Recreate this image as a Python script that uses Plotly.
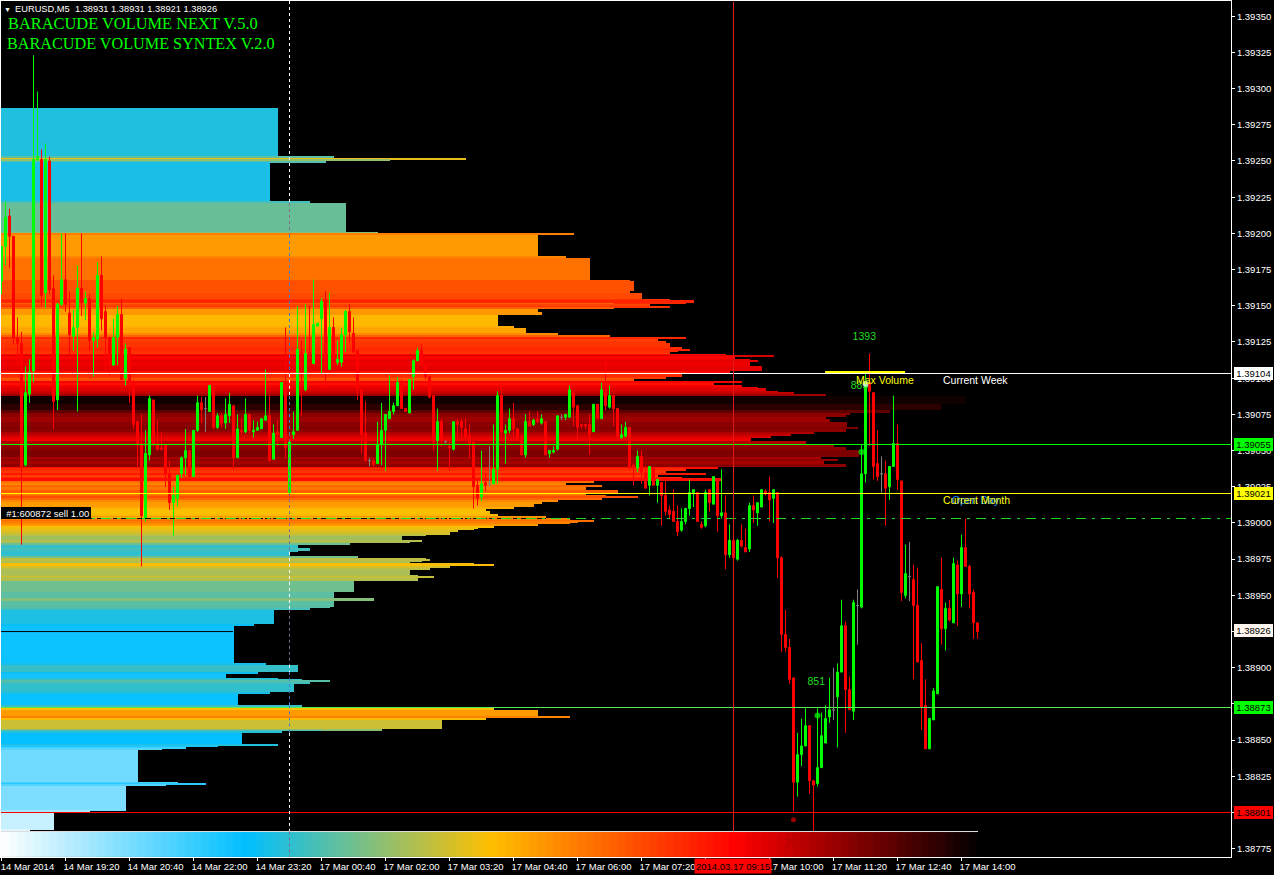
import plotly.graph_objects as go

# ---------- Candles, in points (1e-5) relative to 1.39000 ----------
BASE = 1.39
body_top = [191,211,212,198,128,124,90,104,251,253,
251,251,250,162,151,168,168,145,135,162,
162,155,155,128,171,171,146,128,128,144,
144,120,121,97,70,55,48,86,85,54,
52,54,34,19,33,45,50,50,64,83,
83,79,95,95,74,74,75,82,81,65,
64,75,75,64,66,72,74,74,62,63,
97,98,56,63,120,118,117,118,137,138,
153,154,135,135,113,130,146,146,131,119,
92,62,43,43,54,64,75,77,81,97,
96,79,99,112,119,119,108,101,88,70,
70,56,53,70,70,70,65,60,56,26,
27,28,27,37,88,88,64,72,72,65,
59,70,70,71,72,72,70,50,50,74,
73,75,92,90,81,68,68,68,82,82,
92,90,88,88,79,61,66,66,40,46,
46,35,39,38,30,28,19,9,8,1,
1,10,21,23,21,-1,21,23,32,30,
7,7,-12,-12,-12,-12,-17,12,12,14,
23,22,21,23,21,-24,-77,-86,-107,-160,
-154,-140,-140,-178,-169,-147,-135,-129,-129,-103,
-71,-71,-115,-55,-57,34,97,97,90,41,
34,34,39,55,55,29,-35,-37,-39,-57,
-95,-126,-135,-116,-44,-46,-59,-59,-28,-29,
-17,-17,-30,-48,-69]
body_bot = [167,191,198,128,124,39,40,89,105,251,
157,159,161,84,85,151,151,130,129,135,
152,152,126,126,127,141,128,110,109,128,
99,100,98,68,55,5,3,47,54,51,
51,34,14,14,17,34,45,32,32,64,
78,79,77,66,66,69,69,74,45,45,
63,63,64,63,64,65,71,43,44,61,
59,52,21,61,64,117,92,117,110,136,
141,106,106,114,111,111,130,132,118,93,
61,43,43,40,41,54,64,72,77,81,
79,77,76,101,112,109,101,87,56,57,
57,56,52,51,68,66,59,55,25,17,
18,26,27,27,37,63,62,64,65,57,
47,47,67,68,70,69,47,48,49,51,
73,73,73,80,66,67,67,61,63,72,
72,81,80,79,59,59,60,38,38,38,
35,24,26,26,26,19,8,6,1,-6,
-5,1,10,21,1,-3,-2,14,13,5,
5,-22,-22,-24,-25,-16,-20,-18,9,7,
11,20,16,17,-24,-77,-86,-108,-179,-179,
-160,-154,-178,-181,-180,-169,-152,-134,-129,-120,
-103,-115,-129,-130,-57,-58,34,91,39,32,
34,24,25,39,30,-48,-50,-37,-57,-96,
-127,-156,-156,-136,-118,-73,-73,-67,-69,-49,
-49,-30,-49,-69,-75]
wick_high = [191,222,217,198,142,132,108,113,323,298,
258,262,253,171,152,200,200,160,147,178,
200,160,158,132,180,184,150,128,141,150,
155,124,121,99,70,75,64,88,85,71,
63,54,43,25,33,46,65,50,64,88,
87,87,95,95,76,76,86,90,81,75,
72,86,75,71,70,72,106,88,68,71,
97,135,56,77,150,126,151,150,168,138,
155,160,159,142,126,135,147,151,142,119,
92,84,45,44,70,83,75,102,83,101,
99,79,99,113,121,124,110,101,88,79,
72,57,58,70,72,72,72,68,56,31,
50,34,53,68,91,94,68,79,83,65,
61,75,77,72,77,75,70,50,53,74,
75,75,95,91,81,68,68,75,82,82,
97,115,95,88,79,68,70,66,41,50,
50,39,39,39,30,28,32,12,23,12,
10,10,30,23,21,1,23,23,32,30,
37,19,-1,-12,-11,-1,-4,14,19,14,
23,23,32,23,21,-23,-60,-80,-107,-145,
-135,-128,-140,-178,-128,-131,-126,-107,-100,-97,
-53,-68,-106,-53,-46,54,103,117,90,64,
46,43,39,88,68,29,-15,-13,-29,-31,
-83,-108,-135,-114,-44,-24,-55,-53,-24,-26,
-8,3,-29,-46,-69]
wick_low = [158,178,176,123,109,-15,39,83,97,250,
150,148,158,65,78,150,146,114,119,77,
143,140,119,101,121,133,105,102,109,109,
99,95,83,65,39,-30,1,43,53,50,
50,25,9,-9,11,31,33,32,32,63,
69,63,77,65,65,66,65,69,37,45,
61,62,62,59,64,65,71,43,44,53,
59,45,21,58,64,74,91,117,110,136,
103,92,106,114,109,108,118,125,118,85,
48,43,39,39,41,40,36,72,75,81,
79,77,76,92,112,109,99,86,50,36,
53,55,36,50,60,57,57,45,10,12,
15,22,25,27,27,61,41,62,59,57,
47,45,67,67,69,68,47,45,48,50,
71,71,73,67,58,65,65,47,63,72,
72,78,79,67,59,58,59,37,26,35,
27,24,19,26,14,-2,5,3,1,-9,
-6,-1,5,11,1,-4,-3,8,13,-6,
3,-32,-24,-24,-26,-17,-20,-20,0,-2,
11,19,1,0,-38,-89,-89,-111,-199,-189,
-168,-154,-187,-213,-182,-169,-152,-138,-136,-155,
-103,-145,-129,-136,-84,-59,28,53,30,29,
21,-2,16,39,23,-54,-52,-54,-108,-96,
-143,-156,-156,-136,-118,-84,-88,-68,-69,-71,
-58,-30,-59,-80,-80]
directions = ("GGRRRRGGGG" "RGRRGGRRGG" "RGRGGRRRGG" "RGRRRRGGRR" "RRRGGGGRGG"
              "RNGRGRGGRG" "RGRGGGGRGR" "GRGGGRGRGG" "GRGRGGGRRR" "RRNRGGGGGG"
              "RRGGGRRRRG" "RNRGRRRRRR" "GRNGGRGGRR" "RGRGRGRGGG" "NGGRRRRRGR"
              "GRGRRGGRRG" "RRGRGRRRRR" "GGGGRRGRGR" "GRGRGRRGRG" "GRRGRRRRRG"
              "GGRRGGGGNG" "GRRGNGGRRR" "NRGGRRGNRR" "RRGGGRGRGR" "GRRRR")
assert len(body_top) == len(body_bot) == len(wick_high) == len(wick_low) == len(directions) == 245

# ---------- Volume profile: contiguous price rows (edges in points), volume per row ----------
profile_edges = [286.6,252.8,252.1,251.0,250.0,249.0,221.7,221.0,201.0,199.9,198.9,183.7,183.0,167.8,167.1,
160.2,158.8,154.7,153.7,152.6,151.9,151.2,149.5,148.8,147.8,145.7,143.6,136.0,134.7,131.2,129.8,127.8,127.1,
125.0,124.3,120.9,120.2,118.8,118.1,116.7,116.0,115.3,113.3,111.9,111.2,108.4,105.0,103.6,102.9,100.6,99.9,
98.1,96.7,95.3,93.9,92.9,91.4,90.0,89.1,87.7,82.2,78.0,76.2,75.1,73.4,71.6,70.0,66.5,64.7,63.1,61.5,60.1,
58.5,56.8,53.9,52.3,50.4,45.8,44.2,42.8,40.7,38.9,37.8,36.1,34.7,33.1,32.0,30.9,29.2,27.4,26.2,24.7,22.8,
20.5,18.9,18.0,17.3,15.9,14.7,13.6,11.3,9.9,8.3,6.2,4.8,4.1,2.8,2.1,0.7,0,-0.7,-2.1,-2.8,-4.1,-4.8,-6.2,
-8.3,-9.0,-11.7,-13.1,-13.8,-15.2,-17.3,-19.3,-20.0,-22.8,-24.2,-24.9,-26.2,-26.9,-28.3,-29.0,-29.7,-31.1,
-31.8,-36.6,-37.3,-38.0,-40.1,-47.7,-51.8,-53.9,-58.0,-58.7,-60.1,-69.8,-71.1,-96.7,-98.1,-102.9,-104.3,
-107.0,-108.1,-109.1,-109.8,-111.4,-116.7,-118.1,-125.7,-127.1,-129.1,-133.3,-134.7,-136.0,-142.3,-143.0,
-143.6,-145.0,-152.6,-154.0,-154.7,-156.1,-156.8,-178.9,-180.2,-180.9,-181.6,-198.9,-199.6,-212.0,-212.7]
profile_volume = [277,333,465,389,325,269,309,345,377,573,537,565,589,629,633,
629,641,669,693,685,613,649,669,613,537,541,497,513,525,557,609,685,657,
665,669,681,689,677,669,725,773,734,749,757,749,761,729,685,681,665,633,
741,713,741,757,765,777,793,825,965,940,889,849,845,825,829,846,857,845,813,790,770,
750,805,833,845,858,820,837,823,845,717,685,665,705,657,681,721,593,565,601,585,617,
585,605,637,601,557,541,533,513,485,489,497,545,480,569,593,577,569,537,493,477,473,457,449,
425,401,421,409,349,297,309,297,289,357,425,429,421,409,473,493,449,429,
409,417,433,417,353,333,373,333,329,309,273,253,233,265,297,257,225,
277,301,329,309,293,269,237,301,493,537,569,485,441,381,321,
281,241,277,217,185,161,137,177,205,165,125,89,53,29]
assert len(profile_edges) == len(profile_volume) + 1

volume_scale = [[0, "#ffffff"], [0.25, "#00bfff"], [0.5, "#ffbf00"], [0.75, "#ff0000"], [1, "#000000"]]
VOL_MAX = 980
legend_levels = list(range(4, 980, 8))

tick_labels = ["14 Mar 2014", "14 Mar 19:20", "14 Mar 20:40", "14 Mar 22:00", "14 Mar 23:20", "17 Mar 00:40",
               "17 Mar 02:00", "17 Mar 03:20", "17 Mar 04:40", "17 Mar 06:00", "17 Mar 07:20", "17 Mar 08:40",
               "17 Mar 10:00", "17 Mar 11:20", "17 Mar 12:40", "17 Mar 14:00"]
tick_index = [0, 16, 32, 48, 64, 80, 96, 112, 128, 144, 160, 176, 192, 208, 224, 240]

def P(pts):
    return BASE + pts / 1e5

def ax(x):
    return (x - 1) / 1230

def ay(y):
    return (857 - y) / 856

x_idx = list(range(len(directions)))
opens = [P(b if d == "G" else t) for t, b, d in zip(body_top, body_bot, directions)]
closes = [P(t if d == "G" else b) for t, b, d in zip(body_top, body_bot, directions)]
highs = [P(v) for v in wick_high]
lows = [P(v) for v in wick_low]

fig = go.Figure()

# colour-key strip
fig.add_trace(go.Heatmap(
    x=[v - 4 for v in legend_levels] + [legend_levels[-1] + 4], y=[P(-230.7), P(-213.4)], z=[legend_levels],
    zmin=0, zmax=VOL_MAX, colorscale=volume_scale, showscale=False, xaxis="x", yaxis="y", hoverinfo="skip"))

# profile
centers = [P((a + b) / 2) for a, b in zip(profile_edges[:-1], profile_edges[1:])]
thick = [(a - b) / 1e5 for a, b in zip(profile_edges[:-1], profile_edges[1:])]
fig.add_trace(go.Bar(
    orientation="h", y=centers, x=profile_volume, width=thick, xaxis="x", yaxis="y",
    marker=dict(color=profile_volume, cmin=0, cmax=VOL_MAX, colorscale=volume_scale, line=dict(width=0))))

# candles
main = [i for i in x_idx if directions[i] != "N"]
gray = [i for i in x_idx if directions[i] == "N"]
def candle(idx, up, down, fill_up, fill_down):
    fig.add_trace(go.Candlestick(
        x=idx, open=[opens[i] for i in idx], high=[highs[i] for i in idx],
        low=[lows[i] for i in idx], close=[closes[i] for i in idx],
        xaxis="x2", yaxis="y", whiskerwidth=0,
        increasing=dict(line=dict(color=up, width=1), fillcolor=fill_up),
        decreasing=dict(line=dict(color=down, width=1), fillcolor=fill_down)))
candle(main, "#00ff00", "#ff0000", "#00ff00", "#ff0000")
candle(gray, "#808080", "#808080", "#808080", "#808080")

# chart labels and dots tied to the candles
label_pts = [128, 94.5, -110, -222]
label_txt = ["1393", "885", "851", "794"]
label_col = ["#22dd22", "#22dd22", "#22dd22", "#b00000"]
fig.add_trace(go.Scatter(
    x=[215.7, 214.5, 203.7, 198], y=[P(v) for v in label_pts], mode="text", text=label_txt,
    textfont=dict(family="Liberation Sans", size=10.5, color=label_col), xaxis="x2", yaxis="y", hoverinfo="skip"))
fig.add_trace(go.Scatter(
    x=[215, 204, 198, 216], y=[P(49), P(-133), P(-205), P(96)], mode="markers",
    marker=dict(size=[6, 6, 5, 6], color=["#00ff00", "#00ff00", "#dd0000", "#ffffff"], line=dict(width=0)),
    xaxis="x2", yaxis="y", hoverinfo="skip"))

shapes = []
def hline(pts, color, width=1, dash="solid", x1=1, xref="paper", x0=0):
    shapes.append(dict(type="line", xref=xref, yref="y", x0=x0, x1=x1, y0=P(pts), y1=P(pts),
                       line=dict(color=color, width=width, dash=dash)))

hline(103.23, "#ffffff")
hline(54.2, "#00ff00")
hline(20.35, "#ffff00")
hline(-127.45, "#55ee55")
hline(-199.97, "#ff0000")
hline(3.1, "#000000", dash="6px,2px", xref="x", x1=545)
hline(3.1, "#22dd22", dash="10px,6px,3px,6px")
hline(-75.0, "#000000", xref="x", x1=232)
hline(-213.1, "#e0e0e0", xref="x", x1=977)
hline(104.3, "#ffff00", width=2, xref="x2", x0=205.9, x1=225.9)

# red cursor line
shapes.append(dict(type="line", xref="x2", yref="y", x0=183, x1=183, y0=P(-213), y1=P(360),
                   line=dict(color="#e01818", width=1)))
# dashed session separator (its colour depends on what lies under it)
sep_edges = [360.5, 221, 199, 103, 87.7, 62, -20, -60, -98, -103, -126, -145, -213, -230.7]
sep_cols = ["#ffffff", "#8a6a8a", "#3f7fd0", "#ffffff", "#3f7fd0", "#7a6a90", "#ffffff", "#7a6a90",
            "#ffffff", "#3f7fd0", "#3f7fd0", "#ffffff", "#7a6a90"]
for a, b, c in zip(sep_edges[:-1], sep_edges[1:], sep_cols):
    shapes.append(dict(type="line", xref="x2", yref="y", x0=72, x1=72, y0=P(a), y1=P(b),
                       line=dict(color=c, width=1, dash="3px,3px")))

FONT = "Liberation Sans"
ann = []
def text(x, y, s, color, size=9.5, family=FONT, anchor="left", **kw):
    ann.append(dict(xref="paper", yref="paper", x=ax(x), y=ay(y), text=s, showarrow=False,
                    xanchor=anchor, yanchor="middle", borderpad=0, borderwidth=0,
                    font=dict(family=family, size=size, color=color), **kw))

text(4, 9, "▼", "#ffffff", size=7)
text(15, 9, "EURUSD,M5\u00a0\u00a01.38931 1.38931 1.38921 1.38926", "#ffffff", size=9.3)
text(8, 23.5, "BARACUDE VOLUME NEXT V.5.0", "#00ff00", size=16.4, family="Liberation Serif")
text(7, 44, "BARACUDE VOLUME SYNTEX V.2.0", "#00ff00", size=16.2, family="Liberation Serif")
text(1, 512.5, "\u00a0\u00a0#1:600872 sell 1.00", "#ffffff", bgcolor="#000000", width=90, height=12, align="left")
text(856, 380, "Max Volume", "#ffff00", size=10.5)
text(943, 380, "Current Week", "#ffffff", size=10.5)
text(976, 500, "Open Day", "#1e90ff", size=10.5, anchor="center")
text(943, 500, "Current Month", "#ffff00", size=10.5)

# price tags on the right-hand scale
tag_price = ["1.39104", "1.39055", "1.39021", "1.38926", "1.38873", "1.38801"]
tag_pts = [103.2, 54.2, 20.3, -74.5, -127.4, -200]
tag_bg = ["#ffffff", "#00ff00", "#ffff00", "#fff5ee", "#00ff00", "#ff0000"]
for s, p, bg in zip(tag_price, tag_pts, tag_bg):
    ann.append(dict(xref="paper", yref="y", x=ax(1234), y=P(p), text=s, showarrow=False, xanchor="left",
                    yanchor="middle", bgcolor=bg, width=39, height=13, borderpad=0, borderwidth=0,
                    font=dict(family=FONT, size=9.5, color="#000000")))
# time cursor tag
ann.append(dict(xref="paper", yref="paper", x=ax(694), y=ay(866), text="2014.03.17 09:15", showarrow=False,
                xanchor="left", yanchor="middle", bgcolor="#ff0000", width=76, height=14, borderpad=0,
                font=dict(family=FONT, size=9.5, color="#000000")))

fig.update_layout(
    width=1274, height=875, margin=dict(l=1, r=43, t=1, b=18, autoexpand=False),
    paper_bgcolor="#000000", plot_bgcolor="#000000", showlegend=False, hovermode=False,
    bargap=0, boxgap=0.3, barmode="overlay", shapes=shapes, annotations=ann,
    xaxis=dict(range=[0, 1230], visible=False, fixedrange=True),
    xaxis2=dict(range=[-0.125, 307.375], overlaying="x", anchor="y", side="bottom",
                tickmode="array", tickvals=tick_index, ticktext=tick_labels, ticks="outside", ticklen=3,
                tickcolor="#ffffff", ticklabelshift=26, ticklabelstandoff=-2, showgrid=False, zeroline=False,
                rangeslider=dict(visible=False), showline=True, mirror=True, linecolor="#ffffff", linewidth=1,
                tickfont=dict(family=FONT, size=9.5, color="#ffffff"), fixedrange=True),
    yaxis=dict(range=[1.387693, 1.393605], side="right", tick0=1.39, dtick=0.00025, tickformat=".5f",
               ticks="outside", ticklen=3, tickcolor="#ffffff", showgrid=False, zeroline=False,
               showline=True, mirror=True, linecolor="#ffffff", linewidth=1,
               tickfont=dict(family=FONT, size=9.5, color="#ffffff"), fixedrange=True),
)

fig.write_html("out.html", config={"displayModeBar": False},
               post_script="document.body.style.margin='0';document.body.style.overflow='hidden';")
